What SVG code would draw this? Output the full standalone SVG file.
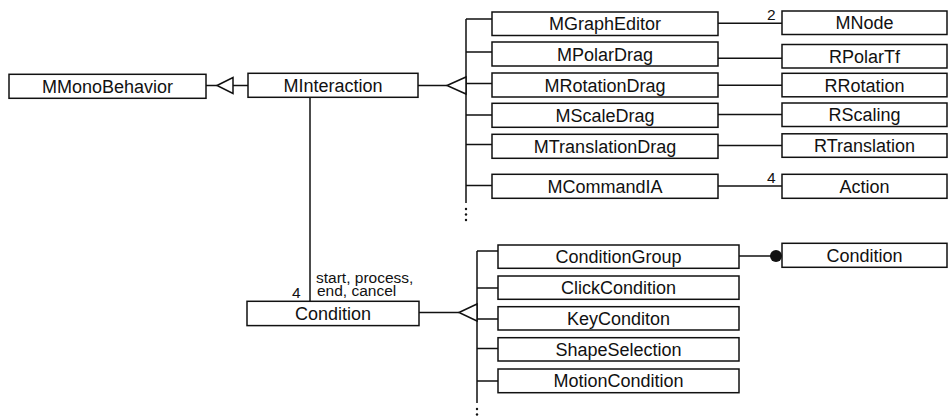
<svg xmlns="http://www.w3.org/2000/svg" width="948" height="418" viewBox="0 0 948 418">
  <style>
    .box { fill: #fff; stroke: #111; stroke-width: 1.5; }
    .name { font-family: "Liberation Sans", Arial, sans-serif; font-size: 18px; fill: #111; text-anchor: middle; }
    .lbl { font-family: "Liberation Sans", Arial, sans-serif; font-size: 15.5px; fill: #111; }
    .ln { fill: none; stroke: #111; stroke-width: 1.5; }
    .tri { fill: #fff; stroke: #111; stroke-width: 1.5; stroke-linejoin: miter; }
    .dot { fill: #111; }
  </style>
  <rect width="948" height="418" fill="#fff"/>

  <!-- connectors -->
  <g id="connectors">
    <!-- MInteraction generalises MMonoBehavior -->
    <path class="ln" d="M206 85.5H217 M233 85.5H248"/>
    <path class="tri" d="M217 85.5L233 77.5V93.5Z"/>

    <!-- interaction subclasses hanging off a shared bus -->
    <path class="ln" d="M418 85.5H447 M466 19V203"/>
    <path class="tri" d="M447 85.5L466 77V94Z"/>
    <path class="ln" d="M466 19H492 M466 52H492 M466 83.5H492 M466 115H492 M466 144.5H492 M466 185.5H492"/>
    <circle class="dot" cx="466" cy="209" r="1.2"/>
    <circle class="dot" cx="466" cy="214.5" r="1.2"/>
    <circle class="dot" cx="466" cy="220" r="1.2"/>

    <!-- associations to the right-hand classes -->
    <path class="ln" d="M718 23.3H782 M718 58.3H782 M718 85.3H782 M718 114.5H782 M718 145.5H782 M718 186H782"/>
    <text class="lbl" x="767" y="20">2</text>
    <text class="lbl" x="767" y="183">4</text>

    <!-- MInteraction holds four Conditions -->
    <path class="ln" d="M310 97.3V301"/>
    <text class="lbl" x="292" y="298">4</text>
    <text class="lbl" x="316" y="283">start, process,</text>
    <text class="lbl" x="317" y="295.5">end, cancel</text>

    <!-- condition subclasses -->
    <path class="ln" d="M419 312.5H459 M477 251V403"/>
    <path class="tri" d="M459 312.5L477 304V321Z"/>
    <path class="ln" d="M477 251H498 M477 288H498 M477 319H498 M477 348.5H498 M477 381H498"/>
    <circle class="dot" cx="477" cy="409" r="1.2"/>
    <circle class="dot" cx="477" cy="414.5" r="1.2"/>

    <!-- ConditionGroup aggregates Conditions -->
    <path class="ln" d="M739 256H776"/>
    <circle class="dot" cx="776" cy="256" r="6"/>
  </g>

  <!-- nodes -->
  <g id="MMonoBehavior"><rect class="box" x="9" y="74.3" width="197" height="24"/><text class="name" x="107.5" y="92.8">MMonoBehavior</text></g>
  <g id="MInteraction"><rect class="box" x="248" y="73.3" width="170" height="24"/><text class="name" x="333" y="91.8">MInteraction</text></g>

  <g id="MGraphEditor"><rect class="box" x="492" y="12" width="226" height="23.5"/><text class="name" x="605" y="30.2">MGraphEditor</text></g>
  <g id="MPolarDrag"><rect class="box" x="492" y="42" width="226" height="24"/><text class="name" x="605" y="60.5">MPolarDrag</text></g>
  <g id="MRotationDrag"><rect class="box" x="492" y="73" width="226" height="24"/><text class="name" x="605" y="91.5">MRotationDrag</text></g>
  <g id="MScaleDrag"><rect class="box" x="492" y="103.3" width="226" height="24"/><text class="name" x="605" y="121.8">MScaleDrag</text></g>
  <g id="MTranslationDrag"><rect class="box" x="492" y="134.3" width="226" height="24"/><text class="name" x="605" y="152.8">MTranslationDrag</text></g>
  <g id="MCommandIA"><rect class="box" x="492" y="174.3" width="226" height="24"/><text class="name" x="605" y="192.8">MCommandIA</text></g>

  <g id="MNode"><rect class="box" x="782" y="11" width="165" height="23.5"/><text class="name" x="864.5" y="29.2">MNode</text></g>
  <g id="RPolarTf"><rect class="box" x="782" y="44.5" width="165" height="23.5"/><text class="name" x="864.5" y="62.7">RPolarTf</text></g>
  <g id="RRotation"><rect class="box" x="782" y="73.3" width="165" height="23.5"/><text class="name" x="864.5" y="91.5">RRotation</text></g>
  <g id="RScaling"><rect class="box" x="782" y="103" width="165" height="23.5"/><text class="name" x="864.5" y="121.2">RScaling</text></g>
  <g id="RTranslation"><rect class="box" x="782" y="133.8" width="165" height="23.5"/><text class="name" x="864.5" y="152">RTranslation</text></g>
  <g id="Action"><rect class="box" x="782" y="174.3" width="165" height="24"/><text class="name" x="864.5" y="192.8">Action</text></g>

  <g id="Condition"><rect class="box" x="247" y="301.3" width="172" height="24.3"/><text class="name" x="333" y="319.8">Condition</text></g>

  <g id="ConditionGroup"><rect class="box" x="498" y="245" width="241" height="23.3"/><text class="name" x="618.5" y="263.2">ConditionGroup</text></g>
  <g id="ClickCondition"><rect class="box" x="498" y="276" width="241" height="23.3"/><text class="name" x="618.5" y="294.2">ClickCondition</text></g>
  <g id="KeyConditon"><rect class="box" x="498" y="306.7" width="241" height="23.3"/><text class="name" x="618.5" y="324.9">KeyConditon</text></g>
  <g id="ShapeSelection"><rect class="box" x="498" y="337.7" width="241" height="23.3"/><text class="name" x="618.5" y="355.9">ShapeSelection</text></g>
  <g id="MotionCondition"><rect class="box" x="498" y="369" width="241" height="23.7"/><text class="name" x="618.5" y="387.4">MotionCondition</text></g>

  <g id="Condition-part"><rect class="box" x="782" y="243.3" width="165" height="24"/><text class="name" x="864.5" y="261.8">Condition</text></g>
</svg>
